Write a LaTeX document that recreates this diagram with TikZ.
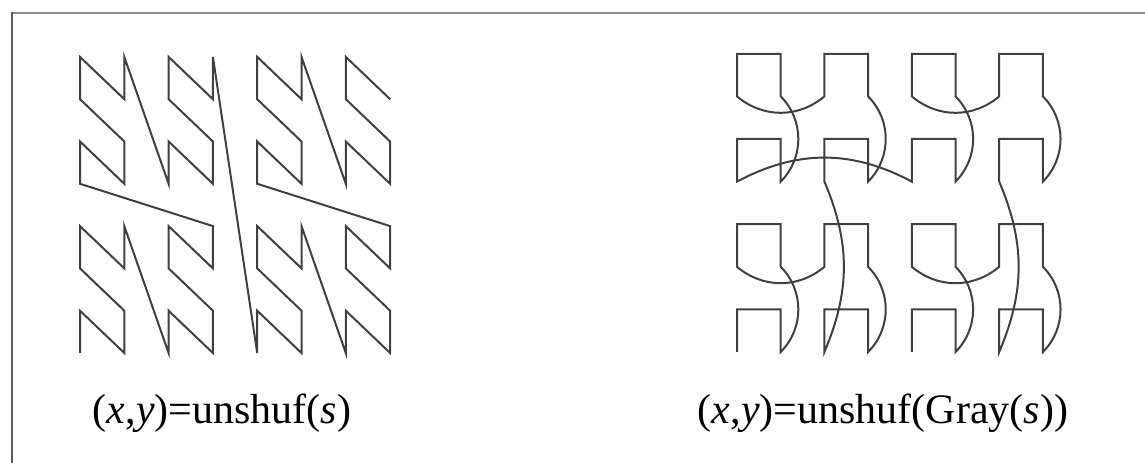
\documentclass[tikz,border=0pt]{standalone}
\usepackage{fontspec}
\setmainfont{Liberation Serif}
\begin{document}
\begin{tikzpicture}[x=0.75pt,y=0.75pt,
  curve/.style={line width=1.5pt, draw=black!75, line join=miter},
  frameline/.style={line width=1.6pt},
  lbl/.style={anchor=base, inner sep=0pt, font=\fontsize{31.5pt}{36pt}\selectfont},
  skip/.style={bend right=45},
  skipback/.style={bend left=45}]
\useasboundingbox (0,0) rectangle (1145,463);

% frame
\draw[frameline, draw=black!45] (12,450) -- (1145,450);
\draw[frameline, draw=black!65] (12,451) -- (12,0);

% grid points of both curves
\foreach \i in {0,...,7}{
  \foreach \j in {0,...,7}{
    \coordinate (L-\i-\j) at ({80+44.3*\i},{110+42.3*\j});
    \coordinate (R-\i-\j) at ({737+43.7*\i},{111+42.6*\j});
  }
}

% Z-order curve
\draw[curve]
  (L-0-0) -- (L-0-1) -- (L-1-0) -- (L-1-1) -- (L-0-2) -- (L-0-3) -- (L-1-2) -- (L-1-3)
  -- (L-2-0) -- (L-2-1) -- (L-3-0) -- (L-3-1) -- (L-2-2) -- (L-2-3) -- (L-3-2) -- (L-3-3)
  -- (L-0-4) -- (L-0-5) -- (L-1-4) -- (L-1-5) -- (L-0-6) -- (L-0-7) -- (L-1-6) -- (L-1-7)
  -- (L-2-4) -- (L-2-5) -- (L-3-4) -- (L-3-5) -- (L-2-6) -- (L-2-7) -- (L-3-6) -- (L-3-7)
  -- (L-4-0) -- (L-4-1) -- (L-5-0) -- (L-5-1) -- (L-4-2) -- (L-4-3) -- (L-5-2) -- (L-5-3)
  -- (L-6-0) -- (L-6-1) -- (L-7-0) -- (L-7-1) -- (L-6-2) -- (L-6-3) -- (L-7-2) -- (L-7-3)
  -- (L-4-4) -- (L-4-5) -- (L-5-4) -- (L-5-5) -- (L-4-6) -- (L-4-7) -- (L-5-6) -- (L-5-7)
  -- (L-6-4) -- (L-6-5) -- (L-7-4) -- (L-7-5) -- (L-6-6) -- (L-6-7) -- (L-7-6);

% Gray-code curve, jumps drawn as arcs
\draw[curve]
  (R-0-0) -- (R-0-1) -- (R-1-1) -- (R-1-0) to[skip] (R-1-2)
  -- (R-1-3) -- (R-0-3) -- (R-0-2) to[bend right=40] (R-2-2)
  -- (R-2-3) -- (R-3-3) -- (R-3-2) to[skipback] (R-3-0)
  -- (R-3-1) -- (R-2-1) -- (R-2-0) to[bend right=23] (R-2-4)
  -- (R-2-5) -- (R-3-5) -- (R-3-4) to[skip] (R-3-6)
  -- (R-3-7) -- (R-2-7) -- (R-2-6) to[bend left=40] (R-0-6)
  -- (R-0-7) -- (R-1-7) -- (R-1-6) to[skipback] (R-1-4)
  -- (R-1-5) -- (R-0-5) -- (R-0-4) to[bend left=28] (R-4-4)
  -- (R-4-5) -- (R-5-5) -- (R-5-4) to[skip] (R-5-6)
  -- (R-5-7) -- (R-4-7) -- (R-4-6) to[bend right=40] (R-6-6)
  -- (R-6-7) -- (R-7-7) -- (R-7-6) to[skipback] (R-7-4)
  -- (R-7-5) -- (R-6-5) -- (R-6-4) to[bend left=23] (R-6-0)
  -- (R-6-1) -- (R-7-1) -- (R-7-0) to[skip] (R-7-2)
  -- (R-7-3) -- (R-6-3) -- (R-6-2) to[bend left=40] (R-4-2)
  -- (R-4-3) -- (R-5-3) -- (R-5-2) to[skipback] (R-5-0)
  -- (R-5-1) -- (R-4-1) -- (R-4-0);

% captions
\node[lbl] (capL) at (222,39) {(\textit{x},\textit{y})=unshuf(\textit{s})};
\node[lbl] (capR) at (883,39) {(\textit{x},\textit{y})=unshuf(Gray(\textit{s}))};
\end{tikzpicture}
\end{document}
